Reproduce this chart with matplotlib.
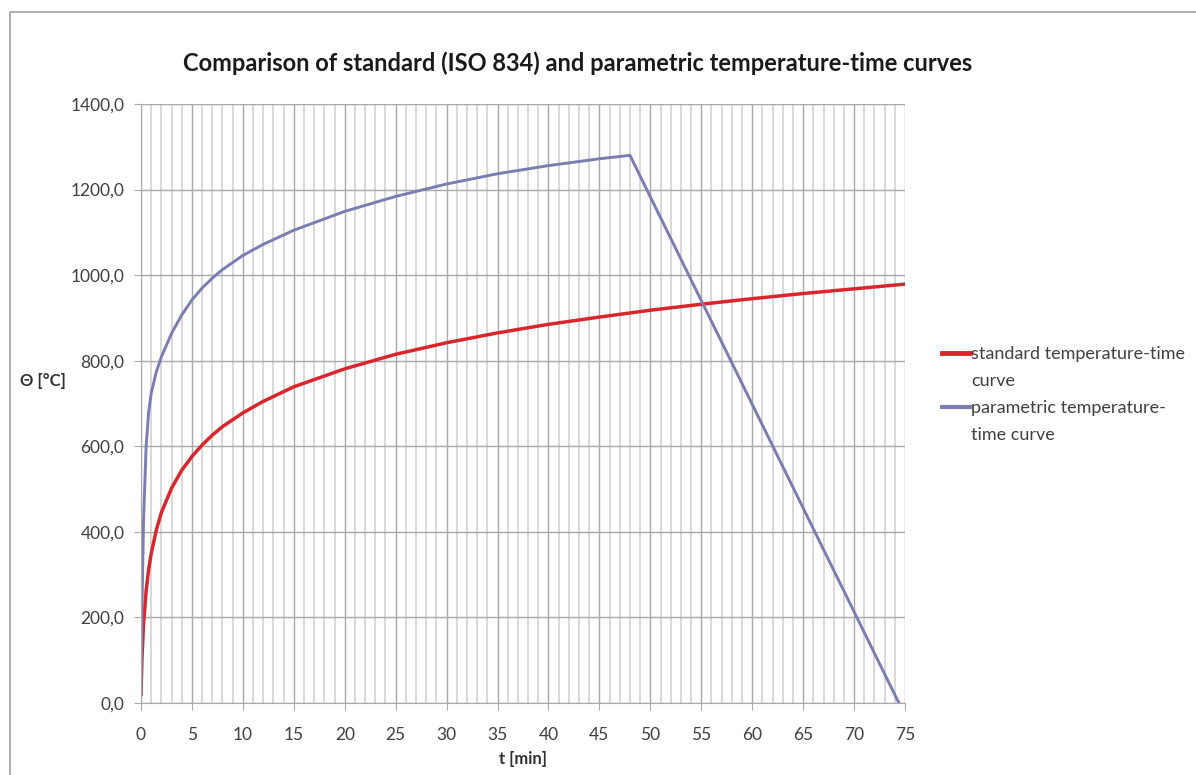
import matplotlib.pyplot as plt
from matplotlib.lines import Line2D
from matplotlib.patches import Rectangle
from matplotlib.ticker import FuncFormatter, MultipleLocator

plt.rcParams['font.family'] = ['Lato', 'DejaVu Sans']

# time [min] and temperature [degC]
t_std = [0, 0.1, 0.25, 0.5, 0.75, 1, 1.5, 2, 3, 4, 5, 6, 7, 8, 10, 12, 15,
         20, 25, 30, 35, 40, 45, 50, 55, 60, 65, 70, 75]
theta_std = [20, 108, 185, 261, 312, 349, 404, 445, 502, 544, 576, 603, 626,
             646, 678, 705, 739, 781, 815, 842, 865, 885, 902, 918, 932, 945,
             957, 968, 979]

t_par = [0, 0.1, 0.25, 0.5, 0.75, 1, 1.5, 2, 3, 4, 5, 6, 7, 8, 10, 12, 15,
         20, 25, 30, 35, 40, 45, 48, 74.4]
theta_par = [20, 226, 426, 599, 680, 724, 774, 809, 864, 907, 942, 970, 993,
             1013, 1046, 1072, 1105, 1149, 1184, 1213, 1237, 1256, 1272, 1280, 0]

red = '#d9262c'
blue = '#7b7cb2'

fig = plt.figure(figsize=(11.96, 7.75), dpi=100)
fig.patches.append(Rectangle((10 / 1196, -0.01), 1.2, 1 - 12 / 775 + 0.01,
                             transform=fig.transFigure, fill=False,
                             edgecolor='#a0a0a0', linewidth=1.2))
ax = fig.add_axes([141 / 1196, 1 - 703 / 775, (905 - 141) / 1196, (703 - 104) / 775])

ax.plot(t_std, theta_std, color=red, linewidth=2.5)
ax.plot(t_par, theta_par, color=blue, linewidth=2.1)

ax.set_xlim(0, 75)
ax.set_ylim(0, 1400)
ax.xaxis.set_major_locator(MultipleLocator(5))
ax.xaxis.set_minor_locator(MultipleLocator(1))
ax.yaxis.set_major_locator(MultipleLocator(200))
ax.yaxis.set_major_formatter(FuncFormatter(lambda v, p: f'{v:.1f}'.replace('.', ',')))

ax.grid(which='minor', axis='x', color='#d8d8d8', linewidth=1.4)
ax.grid(which='major', axis='x', color='#a8a8a8', linewidth=1.0)
ax.grid(which='major', axis='y', color='#a8a8a8', linewidth=1.0)
ax.set_axisbelow(True)
for side in ['top', 'right']:
    ax.spines[side].set_visible(False)
for side in ['left', 'bottom']:
    ax.spines[side].set_color('#a8a8a8')
ax.tick_params(which='major', length=5, color='#a8a8a8', labelsize=12.5,
               labelcolor='#404040')
ax.tick_params(axis='y', pad=7)
ax.tick_params(axis='x', pad=12)
ax.tick_params(which='minor', length=0)

fig.text(578 / 1196, 1 - 63 / 775,
         'Comparison of standard (ISO 834) and parametric temperature-time curves',
         fontsize=17, fontweight='bold', color='#1a1a1a', ha='center', va='center')
ax.set_xlabel('t [min]', fontsize=12, fontweight='bold', color='#303030', labelpad=6)
fig.text(20 / 1196, 1 - 381 / 775, 'Θ [°C]', fontsize=12, fontweight='bold',
         color='#303030', va='center')

# Excel-style legend: handle sits on the first line of each wrapped label
handles = [Line2D([], [], color=red, linewidth=3.5),
           Line2D([], [], color='none'),
           Line2D([], [], color=blue, linewidth=3),
           Line2D([], [], color='none')]
labels = ['standard temperature-time', 'curve',
          'parametric temperature-', 'time curve']
ax.legend(handles, labels, loc='center left', bbox_to_anchor=(1.048, 0.515),
          frameon=False, borderaxespad=0, borderpad=0, fontsize=13,
          handlelength=1.55, handletextpad=0.1, labelspacing=0.6,
          labelcolor='#404040')

fig.savefig('out.png', dpi=100)
